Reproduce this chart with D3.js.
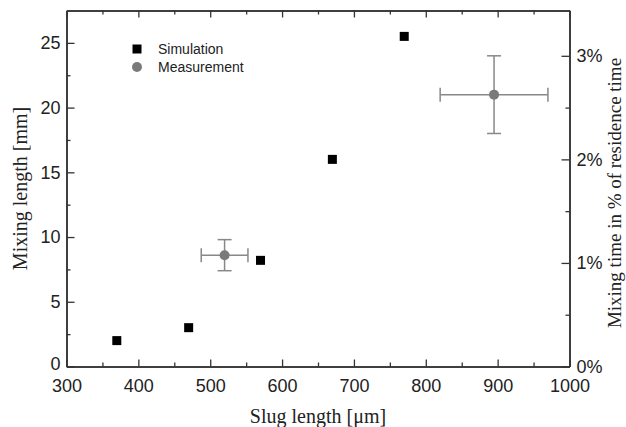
<!DOCTYPE html>
<html>
<head>
<meta charset="utf-8">
<script src="https://cdn.jsdelivr.net/npm/d3@7"></script>
<style>
  body { margin: 0; background: #fff; }
  svg { display: block; }
</style>
</head>
<body>
<svg width="626" height="427"></svg>
<script>
// data
const simX = [370, 470, 570, 670, 770];
const simY = [2, 3, 8.2, 16, 25.5];
const measX = [520, 895];
const measY = [8.6, 21];
const measXErr = [32.5, 75];
const measYErr = [1.2, 3];

const xTicks = [300, 400, 500, 600, 700, 800, 900, 1000];
const yTicks = [0, 5, 10, 15, 20, 25];
const pctTicks = [0, 1, 2, 3];
const mmPerPct = 8; // 1% of residence time = 8 mm

const plotL = 66.5, plotR = 569.5, plotT = 10.5, plotB = 366.5;
const svg = d3.select("svg");

const x = d3.scaleLinear().domain([300, 1000]).range([plotL, plotR]);
const y = d3.scaleLinear().domain([0, 27.5]).range([plotB, plotT]);
const yPct = d3.scaleLinear().domain([0, 27.5 / mmPerPct]).range([plotB, plotT]);

const xMinor = d3.range(350, 1000, 100);
const yMinor = d3.range(2.5, 27.5, 5);
const pctMinor = [0.5, 1.5, 2.5];

const axisColor = "#333";
function styleAxis(g) {
  g.select(".domain").attr("stroke", axisColor).attr("stroke-width", 1.5);
  g.selectAll(".tick line").attr("stroke", axisColor).attr("stroke-width", 1.3);
  g.selectAll(".tick text")
    .attr("fill", "#222")
    .style("font-family", "'Liberation Sans', Arial, sans-serif")
    .style("font-size", "18px");
}

// bottom axis
svg.append("g").attr("transform", `translate(0,${plotB})`)
  .call(d3.axisBottom(x).tickValues(xTicks).tickSizeInner(-7).tickSizeOuter(0).tickPadding(13)
    .tickFormat(d3.format("d")))
  .call(styleAxis);
svg.append("g").attr("transform", `translate(0,${plotB})`)
  .call(d3.axisBottom(x).tickValues(xMinor).tickSizeInner(-4).tickSizeOuter(0).tickFormat(""))
  .call(styleAxis);

// top axis (ticks only)
svg.append("g").attr("transform", `translate(0,${plotT})`)
  .call(d3.axisTop(x).tickValues(xTicks).tickSizeInner(-7).tickSizeOuter(0).tickFormat(""))
  .call(styleAxis);
svg.append("g").attr("transform", `translate(0,${plotT})`)
  .call(d3.axisTop(x).tickValues(xMinor).tickSizeInner(-4).tickSizeOuter(0).tickFormat(""))
  .call(styleAxis);

// left axis
svg.append("g").attr("transform", `translate(${plotL},0)`)
  .call(d3.axisLeft(y).tickValues(yTicks).tickSizeInner(-8).tickSizeOuter(0).tickPadding(6))
  .call(styleAxis);
svg.append("g").attr("transform", `translate(${plotL},0)`)
  .call(d3.axisLeft(y).tickValues(yMinor).tickSizeInner(-4).tickSizeOuter(0).tickFormat(""))
  .call(styleAxis);
// lift the "0" a little so it clears the "300" below it
svg.selectAll("g").filter(function () { return this.getAttribute("transform") === `translate(${plotL},0)`; })
  .selectAll(".tick text").filter(d => d === 0).attr("y", -3);

// right axis in percent
svg.append("g").attr("transform", `translate(${plotR},0)`)
  .call(d3.axisRight(yPct).tickValues(pctTicks).tickSizeInner(-8).tickSizeOuter(0).tickPadding(7)
    .tickFormat(d => d + "%"))
  .call(styleAxis);
svg.append("g").attr("transform", `translate(${plotR},0)`)
  .call(d3.axisRight(yPct).tickValues(pctMinor).tickSizeInner(-4).tickSizeOuter(0).tickFormat(""))
  .call(styleAxis);

// axis titles
const serif = "'Liberation Serif', 'Times New Roman', serif";
svg.append("text")
  .attr("x", (plotL + plotR) / 2).attr("y", 423)
  .attr("text-anchor", "middle")
  .style("font-family", serif).style("font-size", "20px").attr("fill", "#222")
  .text("Slug length [μm]");
svg.append("text")
  .attr("transform", `translate(27,${(plotT + plotB) / 2}) rotate(-90)`)
  .attr("text-anchor", "middle")
  .style("font-family", serif).style("font-size", "20px").attr("fill", "#222")
  .text("Mixing length [mm]");
svg.append("text")
  .attr("transform", `translate(621,193) rotate(-90)`)
  .attr("text-anchor", "middle")
  .style("font-family", serif).style("font-size", "19px").attr("fill", "#222")
  .text("Mixing time in % of residence time");

// error bars for measurements
const errColor = "#888";
const meas = measX.map((d, i) => ({ x: d, y: measY[i], ex: measXErr[i], ey: measYErr[i] }));
const eb = svg.append("g").attr("stroke", errColor).attr("stroke-width", 1.5);
const cap = 7;
meas.forEach(d => {
  eb.append("line").attr("x1", x(d.x - d.ex)).attr("x2", x(d.x + d.ex)).attr("y1", y(d.y)).attr("y2", y(d.y));
  eb.append("line").attr("x1", x(d.x)).attr("x2", x(d.x)).attr("y1", y(d.y - d.ey)).attr("y2", y(d.y + d.ey));
  [d.x - d.ex, d.x + d.ex].forEach(v =>
    eb.append("line").attr("x1", x(v)).attr("x2", x(v)).attr("y1", y(d.y) - cap).attr("y2", y(d.y) + cap));
  [d.y - d.ey, d.y + d.ey].forEach(v =>
    eb.append("line").attr("x1", x(d.x) - cap).attr("x2", x(d.x) + cap).attr("y1", y(v)).attr("y2", y(v)));
});

svg.append("g").selectAll("circle")
  .data(meas)
  .enter().append("circle")
  .attr("cx", d => x(d.x))
  .attr("cy", d => y(d.y))
  .attr("r", 5)
  .attr("fill", "#7a7a7a");

// simulation squares
const sq = 9;
svg.append("g").selectAll("rect")
  .data(simX.map((d, i) => ({ x: d, y: simY[i] })))
  .enter().append("rect")
  .attr("x", d => x(d.x) - sq / 2)
  .attr("y", d => y(d.y) - sq / 2)
  .attr("width", sq).attr("height", sq)
  .attr("fill", "#000");

// legend
const legend = svg.append("g").attr("transform", "translate(137,49)");
legend.append("rect").attr("x", -sq / 2).attr("y", -sq / 2).attr("width", sq).attr("height", sq).attr("fill", "#000");
legend.append("circle").attr("cx", 0).attr("cy", 18).attr("r", 5).attr("fill", "#7a7a7a");
legend.selectAll("text")
  .data(["Simulation", "Measurement"])
  .enter().append("text")
  .attr("x", 21)
  .attr("y", (d, i) => i * 18 + 5)
  .style("font-family", "'Liberation Sans', Arial, sans-serif")
  .style("font-size", "14px")
  .attr("fill", "#222")
  .text(d => d);
</script>
</body>
</html>
